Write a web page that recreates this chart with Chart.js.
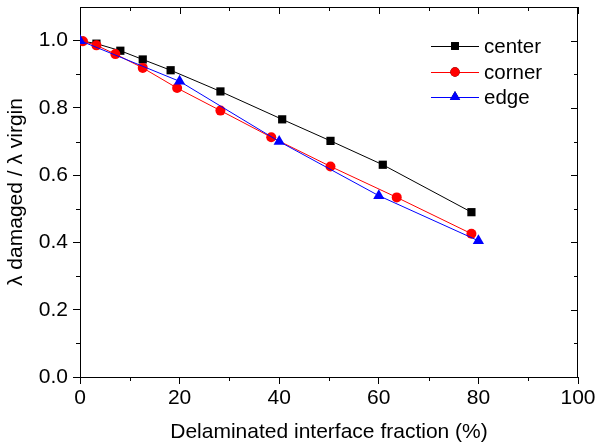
<!DOCTYPE html>
<html>
<head>
<meta charset="utf-8">
<script src="https://cdn.jsdelivr.net/npm/chart.js@4/dist/chart.umd.min.js"></script>
<style>
  html, body { margin: 0; padding: 0; background: #fff; }
  #wrap { width: 596px; height: 448px; }
</style>
</head>
<body>
<div id="wrap"><canvas id="lambdaChart" width="596" height="448"></canvas></div>
<script>
// delaminated fraction (%) vs. normalised buckling load
const centerX = [0, 3.3, 8.1, 12.6, 18.2, 28.2, 40.6, 50.3, 60.8, 78.6];
const centerY = [1.0, 0.991, 0.970, 0.944, 0.912, 0.849, 0.766, 0.702, 0.631, 0.490];

const cornerX = [0.6, 3.3, 7.1, 12.6, 19.5, 28.2, 38.4, 50.3, 63.6, 78.6];
const cornerY = [0.998, 0.986, 0.960, 0.919, 0.859, 0.792, 0.713, 0.626, 0.534, 0.426];

const edgeX = [0, 20, 40, 60, 80];
const edgeY = [1.0, 0.879, 0.700, 0.539, 0.405];

const xTicks = [0, 20, 40, 60, 80, 100];
const yTicks = [0.0, 0.2, 0.4, 0.6, 0.8, 1.0];
const xMinor = [10, 30, 50, 70, 90];
const yMinor = [0.1, 0.3, 0.5, 0.7, 0.9];

const FONT = 'Arial, "Liberation Sans", sans-serif';
const FONT_SIZE = 21;

function toPoints(xs, ys) {
    return xs.map((x, i) => ({x: x, y: ys[i]}));
}

// frame, minor ticks and the mirrored top/right ticks
const framePlugin = {
    id: 'frame',
    afterDraw(chart) {
        const ctx = chart.ctx;
        const a = chart.chartArea;
        const xs = chart.scales.x;
        const ys = chart.scales.y;
        ctx.save();
        ctx.strokeStyle = '#000';
        ctx.lineWidth = 1;
        ctx.beginPath();
        ctx.moveTo(a.left, a.top + 0.5);
        ctx.lineTo(a.right, a.top + 0.5);
        ctx.moveTo(a.right - 0.5, a.top);
        ctx.lineTo(a.right - 0.5, a.bottom);
        // minor ticks: outside on bottom/left, inside on top/right
        xMinor.forEach(v => {
            const p = Math.round(xs.getPixelForValue(v)) + 0.5;
            ctx.moveTo(p, a.bottom); ctx.lineTo(p, a.bottom + 4);
            ctx.moveTo(p, a.top); ctx.lineTo(p, a.top + 4);
        });
        yMinor.forEach(v => {
            const p = Math.round(ys.getPixelForValue(v)) + 0.5;
            ctx.moveTo(a.left, p); ctx.lineTo(a.left - 4, p);
            ctx.moveTo(a.right, p); ctx.lineTo(a.right - 4, p);
        });
        // major ticks on the top / right (inside)
        xTicks.forEach(v => {
            const p = Math.round(xs.getPixelForValue(v)) + 0.5;
            ctx.moveTo(p, a.top); ctx.lineTo(p, a.top + 7);
        });
        yTicks.forEach(v => {
            const p = Math.round(ys.getPixelForValue(v)) + 0.5;
            ctx.moveTo(a.right, p); ctx.lineTo(a.right - 7, p);
        });
        ctx.stroke();
        ctx.restore();
    }
};

// legend: short line with the marker in the middle, then the label
const legendPlugin = {
    id: 'lineLegend',
    afterDraw(chart) {
        const ctx = chart.ctx;
        const rows = [46, 72, 97];
        ctx.save();
        chart.data.datasets.forEach((ds, i) => {
            const y = rows[i];
            ctx.strokeStyle = ds.borderColor;
            ctx.lineWidth = 1;
            ctx.beginPath();
            ctx.moveTo(431, y + 0.5);
            ctx.lineTo(479, y + 0.5);
            ctx.stroke();
            Chart.helpers.drawPoint(ctx, {
                pointStyle: ds.pointStyle,
                radius: ds.legendRadius,
                rotation: 0,
                borderWidth: 0
            }, 455, y);
            ctx.fillStyle = ds.pointBackgroundColor;
            ctx.fill();
            ctx.fillStyle = '#000';
            ctx.font = '20.5px ' + FONT;
            ctx.textBaseline = 'middle';
            ctx.textAlign = 'left';
            ctx.fillText(ds.label, 484, y + 1);
        });
        ctx.restore();
    }
};

new Chart(document.getElementById('lambdaChart'), {
    type: 'scatter',
    data: {
        datasets: [
            {
                label: 'center',
                data: toPoints(centerX, centerY),
                showLine: true,
                borderColor: '#000000',
                borderWidth: 1,
                pointStyle: 'rect',
                pointRadius: 5.8,
                legendRadius: 5.5,
                pointBackgroundColor: '#000000',
                pointBorderWidth: 0,
                order: 2
            },
            {
                label: 'corner',
                data: toPoints(cornerX, cornerY),
                showLine: true,
                borderColor: '#ff0000',
                borderWidth: 1,
                pointStyle: 'circle',
                pointRadius: 5,
                legendRadius: 4.7,
                pointBackgroundColor: '#ff0000',
                pointBorderWidth: 0,
                order: 1
            },
            {
                label: 'edge',
                data: toPoints(edgeX, edgeY),
                showLine: true,
                borderColor: '#0000ff',
                borderWidth: 1,
                pointStyle: 'triangle',
                pointRadius: 6.5,
                legendRadius: 6,
                pointBackgroundColor: '#0000ff',
                pointBorderWidth: 0,
                order: 0
            }
        ]
    },
    options: {
        responsive: false,
        animation: false,
        devicePixelRatio: 1,
        layout: { padding: { left: 0, top: 7, right: 18, bottom: 0 } },
        plugins: {
            legend: { display: false },
            tooltip: { enabled: false }
        },
        elements: { line: { tension: 0 } },
        scales: {
            x: {
                type: 'linear',
                min: 0,
                max: 100,
                afterBuildTicks: s => { s.ticks = xTicks.map(v => ({value: v})); },
                afterFit: s => { s.height = 71; s.paddingLeft = 0; s.paddingRight = 0; },
                grid: { drawOnChartArea: false, drawTicks: true, tickLength: 7, color: '#000' },
                border: { color: '#000', width: 1 },
                ticks: {
                    color: '#000',
                    padding: 2,
                    maxRotation: 0,
                    font: { family: FONT, size: FONT_SIZE }
                },
                title: {
                    display: true,
                    text: 'Delaminated interface fraction (%)',
                    color: '#000',
                    font: { family: FONT, size: FONT_SIZE },
                    padding: { top: 0, bottom: 3 }
                }
            },
            y: {
                type: 'linear',
                min: 0,
                max: 1.1,
                afterBuildTicks: s => { s.ticks = yTicks.map(v => ({value: v})); },
                afterFit: s => { s.width = 80; s.paddingTop = 0; s.paddingBottom = 0; },
                grid: { drawOnChartArea: false, drawTicks: true, tickLength: 7, color: '#000' },
                border: { color: '#000', width: 1 },
                ticks: {
                    color: '#000',
                    padding: 5,
                    font: { family: FONT, size: FONT_SIZE },
                    callback: v => v.toFixed(1)
                },
                title: {
                    display: true,
                    text: 'λ damaged / λ virgin',
                    color: '#000',
                    font: { family: FONT, size: FONT_SIZE },
                    padding: { top: 4, bottom: 0 }
                }
            }
        }
    },
    plugins: [framePlugin, legendPlugin]
});
</script>
</body>
</html>
